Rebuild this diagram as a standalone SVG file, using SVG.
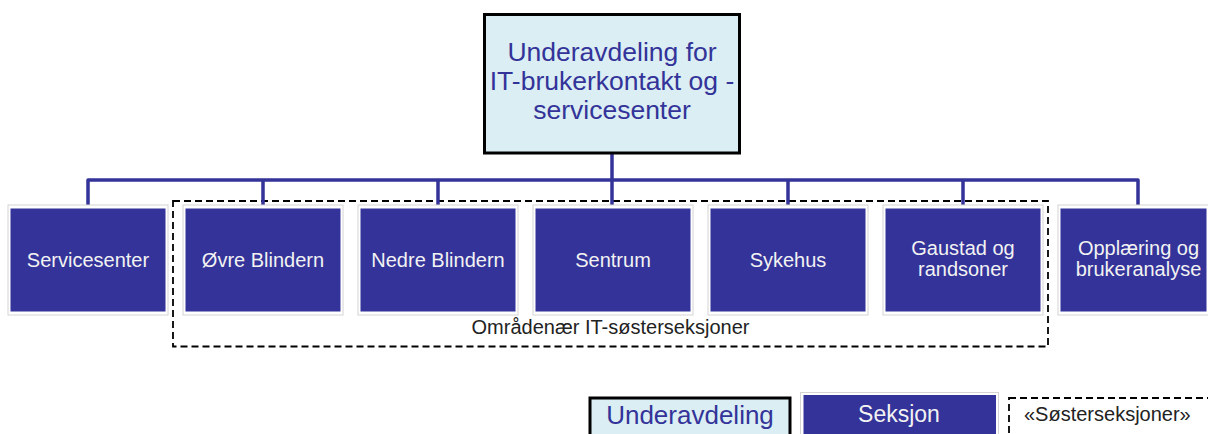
<svg xmlns="http://www.w3.org/2000/svg" width="1208" height="434" viewBox="0 0 1208 434">
<style>
.ub{fill:#DAEEF3;stroke:#000;stroke-width:3}
.ut{font-family:"Liberation Sans",Arial,sans-serif;fill:#333399;text-anchor:middle}
.so{fill:#fff;stroke:#D4D4D4;stroke-width:1}
.sf{fill:#333399}
.st{font-family:"Liberation Sans",Arial,sans-serif;font-size:20px;fill:#F2F2F2;text-anchor:middle}
.dash{fill:none;stroke:#000;stroke-width:1.8;stroke-dasharray:7 4}
.lbl{font-family:"Liberation Sans",Arial,sans-serif;font-size:20px;fill:#222}
.conn{fill:none;stroke:#333399;stroke-width:3.5;stroke-linejoin:round}
</style>
<rect width="1208" height="434" fill="#fff"/>
<g id="group-sister">
<rect class="dash" x="173" y="201" width="875" height="145.5"/>
<text class="lbl" x="610.5" y="334" text-anchor="middle">Områdenær IT-søsterseksjoner</text>
</g>
<g id="connectors">
<path class="conn" d="M612,154 V206.5"/>
<path class="conn" d="M88,206.5 V180 H1138 V206.5"/>
<path class="conn" d="M263,180 V206.5 M438,180 V206.5 M788,180 V206.5 M963,180 V206.5"/>
</g>
<g id="top">
<rect class="ub" x="484.5" y="14.5" width="255" height="138.5"/>
<text class="ut" font-size="26.5"><tspan x="612" y="61">Underavdeling for</tspan><tspan x="612" y="90">IT-brukerkontakt og -</tspan><tspan x="612" y="119">servicesenter</tspan></text>
</g>
<g id="servicesenter">
<rect class="so" x="8" y="205" width="160" height="110"/>
<rect class="sf" x="10.5" y="208.5" width="155" height="103"/>
<text class="st" x="88" y="267">Servicesenter</text>
</g>
<g id="ovre-blindern">
<rect class="so" x="183" y="205" width="160" height="110"/>
<rect class="sf" x="185.5" y="208.5" width="155" height="103"/>
<text class="st" x="263" y="267">Øvre Blindern</text>
</g>
<g id="nedre-blindern">
<rect class="so" x="358" y="205" width="160" height="110"/>
<rect class="sf" x="360.5" y="208.5" width="155" height="103"/>
<text class="st" x="438" y="267">Nedre Blindern</text>
</g>
<g id="sentrum">
<rect class="so" x="533" y="205" width="160" height="110"/>
<rect class="sf" x="535.5" y="208.5" width="155" height="103"/>
<text class="st" x="613" y="267">Sentrum</text>
</g>
<g id="sykehus">
<rect class="so" x="708" y="205" width="160" height="110"/>
<rect class="sf" x="710.5" y="208.5" width="155" height="103"/>
<text class="st" x="788" y="267">Sykehus</text>
</g>
<g id="gaustad">
<rect class="so" x="883" y="205" width="160" height="110"/>
<rect class="sf" x="885.5" y="208.5" width="155" height="103"/>
<text class="st"><tspan x="963" y="255">Gaustad og</tspan><tspan x="963" y="276">randsoner</tspan></text>
</g>
<g id="opplaering">
<rect class="so" x="1058" y="205" width="160" height="110"/>
<rect class="sf" x="1060.5" y="208.5" width="146" height="103"/>
<text class="st"><tspan x="1138.5" y="255">Opplæring og</tspan><tspan x="1138.5" y="276">brukeranalyse</tspan></text>
</g>
<g id="legend-underavdeling">
<rect class="ub" x="590" y="398" width="200" height="50"/>
<text class="ut" font-size="26" x="690" y="424">Underavdeling</text>
</g>
<g id="legend-seksjon">
<rect class="so" x="800.5" y="392.5" width="198" height="50"/>
<rect class="sf" x="803.5" y="395" width="192.5" height="45"/>
<text class="st" font-size="23" x="899" y="422" style="font-size:23px">Seksjon</text>
</g>
<g id="legend-sister">
<rect class="dash" x="1009" y="398" width="215" height="50"/>
<text class="lbl" x="1024" y="421">«Søsterseksjoner»</text>
</g>
</svg>
